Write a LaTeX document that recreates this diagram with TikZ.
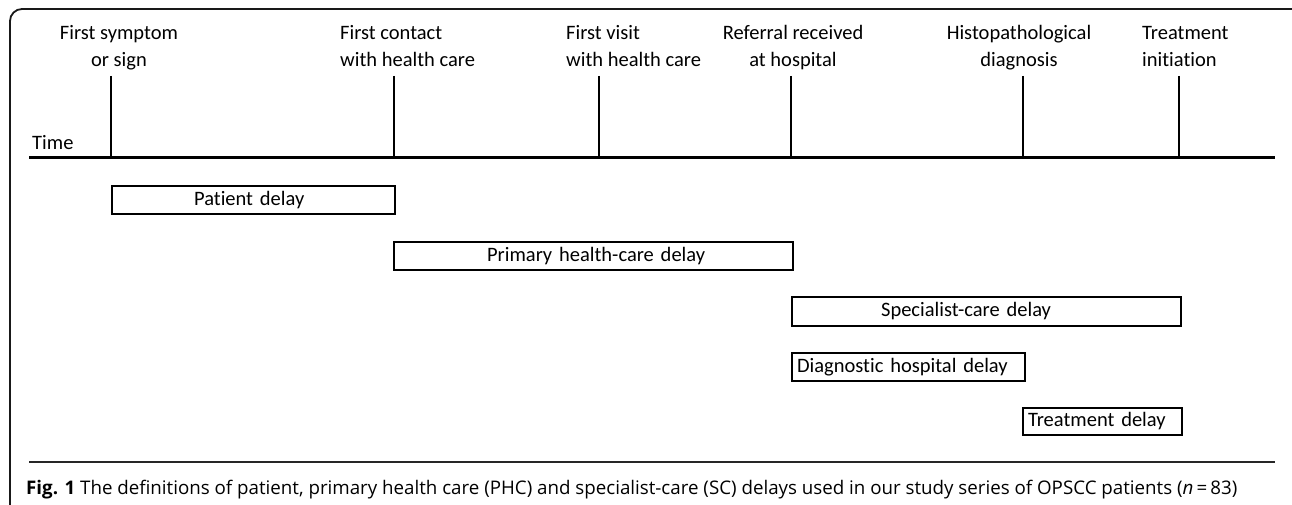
\documentclass[tikz,border=0pt]{standalone}
\usepackage{fontspec}
\setmainfont[Ligatures=NoCommon,RawFeature=-liga]{Carlito}
\newfontfamily\capfont{Open Sans}
\begin{document}
\begin{tikzpicture}[x=1pt,y=-1pt,
  frame/.style={draw=black!90, line width=1.8pt, rounded corners=12pt},
  axis/.style={line width=3pt, draw=black},
  tick/.style={line width=2.4pt, draw=black},
  evlabel/.style={inner sep=0pt, font=\fontsize{20.5}{27}\selectfont},
  delaybox/.style={draw=black, line width=2.2pt, inner xsep=0pt, inner ysep=0pt, anchor=north west,
    align=left, font=\fontsize{20.5}{24}\selectfont, text height=14pt, text depth=4pt},
  caprule/.style={line width=2.6pt, draw=black!85}
]
\useasboundingbox (0,0) rectangle (1292,505);
\begin{scope}
  \clip (0,0) rectangle (1292,505);
  \draw[frame] (10,9) rectangle (1330,540);
\end{scope}

% axis
\coordinate (axL) at (29,158);
\coordinate (axR) at (1275,158);
\draw[axis] (axL) -- (axR);

% ticks
\foreach \n/\x in {t1/111,t2/394,t3/599,t4/791,t5/1023,t6/1179}{
  \coordinate (\n top) at (\x,76);
  \coordinate (\n) at (\x,158);
  \draw[tick] (\n top) -- (\n);
}

% event labels (anchor=base is the baseline of the last line)
\node[evlabel, anchor=base, align=center] (l1) at (119,67) {First symptom\\or sign};
\node[evlabel, anchor=base west, align=left] (l2) at (340,67) {First contact\\with health care};
\node[evlabel, anchor=base west, align=left] (l3) at (566,67) {First visit\\with health care};
\node[evlabel, anchor=base, align=center] (l4) at (793,67) {Referral received\\at hospital};
\node[evlabel, anchor=base, align=center] (l5) at (1019,67) {Histopathological\\diagnosis};
\node[evlabel, anchor=base west, align=left] (l6) at (1142,67) {Treatment\\initiation};
\node[evlabel, anchor=base west] (time) at (32,150) {Time};

% delay boxes
\node[delaybox, text width=283pt, minimum height=28pt] (pat) at (111,185) {\hspace*{82pt}Patient delay};
\node[delaybox, text width=399pt, minimum height=28pt] (phc) at (393,241) {\hspace*{93pt}Primary health-care delay};
\node[delaybox, text width=389pt, minimum height=29pt] (sc) at (791,296) {\hspace*{89pt}Specialist-care delay};
\node[delaybox, text width=233pt, minimum height=28pt] (dhd) at (791,352) {\hspace*{5pt}Diagnostic hospital delay};
\node[delaybox, text width=159pt, minimum height=27pt] (td) at (1022,407) {\hspace*{5pt}Treatment delay};

% caption
\coordinate (cL) at (29,462);
\coordinate (cR) at (1275,462);
\draw[caprule] (cL) -- (cR);
\node[inner sep=0pt, anchor=base west] (cap) at (26,494) {\resizebox{1211pt}{!}{\capfont\fontsize{16}{18}\selectfont\textbf{Fig. 1} The definitions of patient, primary health care (PHC) and specialist-care (SC) delays used in our study series of OPSCC patients ({\itshape n}\,=\,83)}};
\end{tikzpicture}
\end{document}
